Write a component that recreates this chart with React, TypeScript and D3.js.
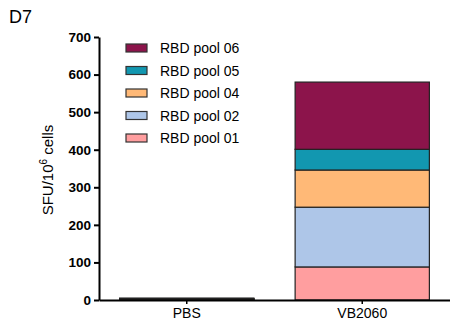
import React, { useEffect, useRef } from 'react';
import * as d3 from 'd3';

const groups = ['PBS', 'VB2060'];
const pools = ['RBD pool 01', 'RBD pool 02', 'RBD pool 04', 'RBD pool 05', 'RBD pool 06'];
const colors = ['#ff9e9f', '#aec6e8', '#ffb977', '#1297b0', '#8c144b'];
// values per group, in pool order
const pbsValues = [1, 1, 1, 1, 1];
const vbValues = [88, 159, 99, 55, 179];
const yTicks = [0, 100, 200, 300, 400, 500, 600, 700];

const W = 450;
const H = 323;

const App = () => {
  const ref = useRef<SVGSVGElement>(null);

  useEffect(() => {
    const svg = d3.select(ref.current);
    svg.selectAll('*').remove();

    const x = d3.scaleBand().domain(groups).range([99, 450]).paddingInner(0.235).paddingOuter(0.1175);
    const y = d3.scaleLinear().domain([0, 700]).range([300, 37]);

    const rows = groups.map((g, i) => {
      const vals = i === 0 ? pbsValues : vbValues;
      const row: any = { group: g };
      pools.forEach((p, j) => (row[p] = vals[j]));
      return row;
    });
    const series = d3.stack().keys(pools)(rows);

    svg
      .append('g')
      .selectAll('g')
      .data(series)
      .join('g')
      .attr('fill', (d, i) => colors[i])
      .selectAll('rect')
      .data((d) => d)
      .join('rect')
      .attr('x', (d: any) => x(d.data.group)!)
      .attr('width', x.bandwidth())
      .attr('y', (d) => y(d[1]))
      .attr('height', (d) => y(d[0]) - y(d[1]))
      .attr('stroke', '#222')
      .attr('stroke-width', 1.2);

    const font = 'Liberation Sans, Arial, sans-serif';

    // y axis
    const ya = svg
      .append('g')
      .attr('transform', 'translate(99,0)')
      .call(d3.axisLeft(y).tickValues(yTicks).tickSize(5).tickPadding(3).tickSizeOuter(0));
    ya.select('.domain').attr('stroke-width', 2).attr('stroke', '#000');
    ya.selectAll('.tick line').attr('stroke-width', 2);
    ya.selectAll('.tick text')
      .attr('font-family', font)
      .attr('font-weight', 'bold')
      .attr('font-size', 13.5)
      .attr('fill', '#000');

    // x axis
    const xa = svg
      .append('g')
      .attr('transform', 'translate(0,300)')
      .call(d3.axisBottom(x).tickSize(4).tickPadding(4).tickSizeOuter(0));
    xa.select('.domain').attr('stroke-width', 2).attr('stroke', '#000');
    xa.selectAll('.tick line').attr('stroke-width', 1.5);
    xa.selectAll('.tick text')
      .attr('font-family', font)
      .attr('font-size', 14)
      .attr('fill', '#000');

    // y label
    const yl = svg
      .append('text')
      .attr('transform', 'translate(53,170) rotate(-90)')
      .attr('text-anchor', 'middle')
      .attr('font-family', font)
      .attr('font-size', 15)
      .attr('fill', '#000');
    yl.append('tspan').text('SFU/10');
    yl.append('tspan').attr('dy', -6).attr('font-size', 10).text('6');
    yl.append('tspan').attr('dy', 6).text(' cells');

    svg
      .append('text')
      .attr('x', 9)
      .attr('y', 23)
      .attr('font-family', font)
      .attr('font-size', 18)
      .attr('fill', '#000')
      .text('D7');

    // legend, top to bottom reversed
    const legend = svg
      .append('g')
      .selectAll('g')
      .data(pools.map((p, i) => ({ p, c: colors[i] })).reverse())
      .join('g')
      .attr('transform', (d, i) => `translate(126,${48 + i * 22.5})`);
    legend
      .append('rect')
      .attr('x', 0)
      .attr('y', -4)
      .attr('width', 21)
      .attr('height', 8)
      .attr('fill', (d) => d.c)
      .attr('stroke', '#333')
      .attr('stroke-width', 1.2);
    legend
      .append('text')
      .attr('x', 34)
      .attr('y', 5)
      .attr('font-family', font)
      .attr('font-size', 14)
      .attr('fill', '#000')
      .text((d) => d.p);
  }, []);

  return <svg ref={ref} width={W} height={H} style={{ position: 'absolute', left: 0, top: 0 }} />;
};

export default App;
